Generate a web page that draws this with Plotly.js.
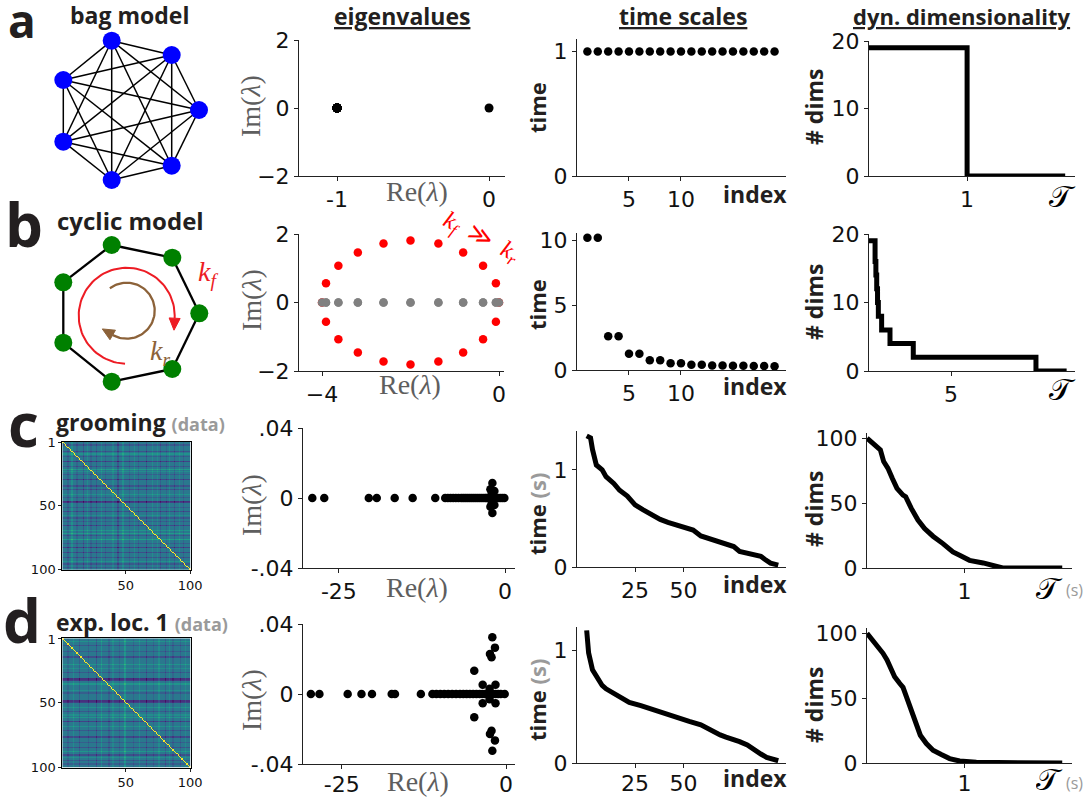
<!DOCTYPE html>
<html><head><meta charset="utf-8">
<script src="https://cdn.plot.ly/plotly-3.0.1.min.js"></script>
<style>html,body{margin:0;padding:0;background:#fff;}#chart{width:1085px;height:798px;}</style>
</head><body><div id="chart"></div>
<script>
const W = 1085, H = 798;

// ---------- data ----------
// (a) bag model eigenvalues
const eigARe = [-1,-1,-1,-1,-1,-1,-1,-1,-1,-1,-1,-1,-1,-1,-1,-1,-1,-1,-1,0];
const eigAIm = [0,0,0,0,0,0,0,0,0,0,0,0,0,0,0,0,0,0,0,0];
// (b) cyclic model eigenvalues, kf >> kr (red) and kf = kr (grey)
const eigBRedRe = [-4.0,-3.91,-3.63,-3.19,-2.61,-2.0,-1.37,-0.81,-0.36,-0.07,0.0,-0.07,-0.36,-0.81,-1.37,-2.0,-2.61,-3.19,-3.63,-3.91];
const eigBRedIm = [0,0.56,1.07,1.46,1.72,1.81,1.72,1.46,1.07,0.56,0,-0.56,-1.07,-1.46,-1.72,-1.81,-1.72,-1.46,-1.07,-0.56];
const eigBGreyRe = [-4.0,-3.91,-3.91,-3.63,-3.63,-3.19,-3.19,-2.61,-2.61,-2.0,-2.0,-1.37,-1.37,-0.81,-0.81,-0.36,-0.36,-0.07,-0.07,0.0];
const eigBGreyIm = [0,0,0,0,0,0,0,0,0,0,0,0,0,0,0,0,0,0,0,0];
// (c) grooming eigenvalues
const eigCRe = [-29.0,-27.2,-20.5,-19.3,-16.6,-13.9,-10.5,-9.0,-8.6,-8.2,-7.8,-7.4,-7.0,-6.6,-6.3,-6.0,-5.7,-5.4,-5.1,-4.8,-4.5,-4.2,-3.9,-3.6,-3.3,-3.0,-2.8,-2.6,-2.4,-2.2,-2.0,-1.9,-1.8,-1.6,-1.4,-1.2,-1.0,-0.7,-0.4,-0.1,-1.9,-1.9,-2.2,-2.2,-1.6,-1.6,-2.0,-2.0];
const eigCIm = [0,0,0,0,0,0,0,0,0,0,0,0,0,0,0,0,0,0,0,0,0,0,0,0,0,0,0,0,0,0,0,0,0,0,0,0,0,0,0,0,0.0086,-0.0086,0.005,-0.005,0.004,-0.004,0.003,-0.003];
// (d) exp. loc. 1 eigenvalues
const eigDRe = [-29.7,-28.4,-24.1,-22.0,-20.4,-17.4,-16.9,-12.96,-11.2,-10.6,-10.0,-9.4,-8.8,-8.2,-7.6,-7.0,-6.5,-6.0,-5.5,-5.0,-4.5,-4.0,-3.6,-3.2,-2.8,-2.4,-2.0,-1.6,-1.2,-0.8,-0.2,-4.83,-4.83,-2.08,-2.08,-1.68,-1.68,-2.44,-2.44,-2.2,-2.2,-3.55,-3.55,-1.6,-1.6,-2.5,-2.5];
const eigDIm = [0,0,0,0,0,0,0,0,0,0,0,0,0,0,0,0,0,0,0,0,0,0,0,0,0,0,0,0,0,0,0,0.0133,-0.0133,0.0324,-0.0324,0.0265,-0.0265,0.0229,-0.0229,0.021,-0.021,0.0053,-0.0053,0.0053,-0.0053,0.003,-0.003];

// time scales
const timeAIdx = [1,2,3,4,5,6,7,8,9,10,11,12,13,14,15,16,17,18,19];
const timeAVal = [1,1,1,1,1,1,1,1,1,1,1,1,1,1,1,1,1,1,1];
const timeBIdx = [1,2,3,4,5,6,7,8,9,10,11,12,13,14,15,16,17,18,19];
const timeBVal = [10.2,10.2,2.6,2.6,1.25,1.25,0.75,0.75,0.52,0.52,0.41,0.41,0.35,0.35,0.32,0.32,0.3,0.3,0.29];
const timeCIdx = [0,2,3,5,8,10,14,17,21,25,29,34,38,42,47,51,55,59,62,66,69,72,76,79,83,86,90,92,95,99];
const timeCVal = [1.35,1.33,1.21,1.05,1.0,0.93,0.86,0.79,0.73,0.64,0.59,0.53,0.49,0.46,0.43,0.41,0.38,0.32,0.30,0.27,0.25,0.23,0.21,0.16,0.14,0.13,0.11,0.08,0.04,0.02];
const timeDIdx = [0,1,3,5,8,10,14,17,22,28,33,38,43,48,53,59,62,66,69,72,76,79,83,86,90,93,97,99];
const timeDVal = [1.18,0.98,0.83,0.77,0.69,0.66,0.62,0.58,0.54,0.51,0.48,0.46,0.43,0.40,0.37,0.34,0.31,0.27,0.25,0.23,0.21,0.19,0.16,0.12,0.08,0.05,0.03,0.02];

// dynamical dimensionality
const dimATau = [0,1,2];
const dimAVal = [19,0,0];
const dimBTau = [0,0.37,0.42,0.47,0.52,0.57,0.77,1.28,2.7,10.18,12.05];
const dimBVal = [19,16,14,12,10,8,6,4,2,0,0];
const dimCTau = [0,0.045,0.10,0.137,0.171,0.215,0.26,0.307,0.369,0.396,0.454,0.522,0.59,0.676,0.778,0.88,0.949,1.05,1.19,1.32,1.39,2.0];
const dimCVal = [100,97.4,93.5,91,82,76.8,69,61.4,56.2,54.9,45.9,36.9,30.4,24.5,18.8,12.4,9.8,5.9,3.9,1.5,0,0];
const dimDTau = [0,0.045,0.10,0.164,0.205,0.232,0.283,0.334,0.369,0.41,0.454,0.498,0.546,0.608,0.676,0.761,0.846,0.949,1.12,2.0];
const dimDVal = [100,96.1,91,84.5,79.4,74.2,66.5,61.4,58.3,49.8,40.7,30.4,21.4,15,9.8,6.5,3.4,1.5,0.5,0];

// heatmap band structure read from the matrices (row / column index and level shift)
const heatBase = 0.40;
const heatCRowIdx   = [3,8,12,16,20,26,30,35,38,44,47,48,52,55,60,63,66,74,80,83,87,91,96,99,10,22,24,42,58,70,72,77,94];
const heatCRowShift = [-0.12,-0.14,-0.1,-0.2,-0.12,-0.1,-0.18,-0.14,-0.14,-0.1,-0.26,-0.22,-0.1,-0.16,-0.12,-0.1,-0.18,-0.12,-0.1,-0.2,-0.16,-0.14,-0.12,-0.1,0.1,0.14,0.08,0.1,0.08,0.12,0.14,0.16,0.1];
const heatCColIdx   = [5,12,17,23,27,34,44,53,60,66,77,82,88,95,8,20,31,40,48,57,71,75,84,92];
const heatCColShift = [-0.08,-0.07,-0.12,-0.07,-0.1,-0.07,-0.12,-0.07,-0.08,-0.12,-0.1,-0.07,-0.1,-0.08,0.1,0.08,0.08,0.07,0.1,0.08,0.08,0.07,0.08,0.07];
const heatDRowIdx   = [6,11,15,27,32,33,43,49,50,57,65,72,77,81,85,91,95,98,3,21,24,36,41,54,60,62,69,88,93];
const heatDRowShift = [-0.12,-0.1,-0.16,-0.12,-0.26,-0.22,-0.1,-0.26,-0.22,-0.12,-0.2,-0.12,-0.18,-0.1,-0.14,-0.16,-0.12,-0.1,0.1,0.12,0.08,0.12,0.08,0.1,0.08,0.12,0.1,0.12,0.08];
const heatDColIdx   = [5,14,21,27,37,45,56,66,72,81,87,93,9,31,40,49,50,61,76,84,97];
const heatDColShift = [-0.07,-0.1,-0.07,-0.12,-0.08,-0.07,-0.07,-0.12,-0.07,-0.1,-0.07,-0.08,0.08,0.1,0.07,0.14,0.12,0.08,0.08,0.07,0.07];

// network diagrams (node positions on the page)
const bagNodeX = [111.7,171.7,199,171.7,111.7,63.3,63.3];
const bagNodeY = [40.7,55,110,165.7,180,141.7,80];
const cycNodeX = [111.7,172.3,199.3,172.3,111.7,63.3,63.3];
const cycNodeY = [245,257.7,313.3,369,381.7,342.7,282.3];

// ---------- helpers ----------
function dx(a,b){return [a/W,b/W];}
function dy(t,b){return [1-b/H,1-t/H];}
const AX = {showline:true,linecolor:'#222',linewidth:1,ticks:'outside',ticklen:4,tickwidth:1,tickcolor:'#222',
  showgrid:false,zeroline:false,tickfont:{family:'DejaVu Sans',size:22,color:'#111'},fixedrange:true,tickmode:'array'};
function axis(dom,range,vals,text,anchor,extra){
  return Object.assign({},AX,{domain:dom,range:range,tickvals:vals,ticktext:text,anchor:anchor},extra||{});
}
const layout = {width:W,height:H,margin:{l:0,r:0,t:0,b:0},paper_bgcolor:'#fff',plot_bgcolor:'rgba(0,0,0,0)',showlegend:false,
  annotations:[],shapes:[]};
// eigenvalue column
layout.xaxis  = axis(dx(299,505),[-1.25,0.105],[-1,0],['-1','0'],'y');
layout.yaxis  = axis(dy(40,176),[-2,2],[-2,0,2],['\u22122','0','2'],'x');
layout.xaxis2 = axis(dx(299,504),[-4.52,0.113],[-4,0],['\u22124','0'],'y2');
layout.yaxis2 = axis(dy(234,371),[-2,2],[-2,0,2],['\u22122','0','2'],'x2');
layout.xaxis3 = axis(dx(303,515),[-30.4,1.5],[-25,0],['-25','0'],'y3');
layout.yaxis3 = axis(dy(428,568),[-0.04,0.04],[-0.04,0,0.04],['-.04','0','.04'],'x3');
layout.xaxis4 = axis(dx(303,515),[-30.9,1.37],[-25,0],['-25','0'],'y4',{ticklabelstandoff:-3});
layout.yaxis4 = axis(dy(624,764),[-0.04,0.04],[-0.04,0,0.04],['-.04','0','.04'],'x4');
// time column
layout.xaxis5 = axis(dx(577,786),[0,20.1],[5,10],['5','10'],'y5');
layout.yaxis5 = axis(dy(39,176),[0,1.1],[0,1],['0','1'],'x5');
layout.xaxis6 = axis(dx(577,786),[0,20.1],[5,10],['5','10'],'y6');
layout.yaxis6 = axis(dy(233,370),[0,10.57],[0,5,10],['0','5','10'],'x6');
layout.xaxis7 = axis(dx(577,786),[-5,103],[25,50],['25','50'],'y7');
layout.yaxis7 = axis(dy(431,567),[0,1.4],[0,1],['0','1'],'x7');
layout.xaxis8 = axis(dx(577,786),[-5,103],[25,50],['25','50'],'y8',{ticklabelstandoff:-3});
layout.yaxis8 = axis(dy(627,763),[0,1.21],[0,1],['0','1'],'x8');
// dims column
layout.xaxis9  = axis(dx(869,1075),[0,2.1],[1],['1'],'y9');
layout.yaxis9  = axis(dy(41,176),[0,20],[0,10,20],['0','10','20'],'x9');
layout.xaxis10 = axis(dx(869,1075),[0,12.56],[5],['5'],'y10');
layout.yaxis10 = axis(dy(234,371),[0,20],[0,10,20],['0','10','20'],'x10');
layout.xaxis11 = axis(dx(867,1072),[0,2.1],[1],['1'],'y11');
layout.yaxis11 = axis(dy(433,568),[0,104],[0,50,100],['0','50','100'],'x11');
layout.xaxis12 = axis(dx(867,1072),[0,2.1],[1],['1'],'y12',{ticklabelstandoff:-3});
layout.yaxis12 = axis(dy(628,763),[0,104],[0,50,100],['0','50','100'],'x12');
// heatmaps
const HX = {mirror:true,linecolor:'#000',ticklen:3,tickfont:{family:'DejaVu Sans',size:13,color:'#111'}};
layout.xaxis13 = axis(dx(62.3,190.7),[0.5,100.5],[50,100],['50','100'],'y13',HX);
layout.yaxis13 = axis(dy(441.7,570),[100.5,0.5],[1,50,100],['1','50','100'],'x13',HX);
layout.xaxis14 = axis(dx(62.3,190.7),[0.5,100.5],[50,100],['50','100'],'y14',HX);
layout.yaxis14 = axis(dy(638.3,767.7),[100.5,0.5],[1,50,100],['1','50','100'],'x14',HX);
// overlay (page pixel coordinates) for the network diagrams
layout.xaxis15 = {domain:[0,1],range:[0,W],visible:false,fixedrange:true,anchor:'y15'};
layout.yaxis15 = {domain:[0,1],range:[H,0],visible:false,fixedrange:true,anchor:'x15'};

const traces = [];
function dots(x,y,n,color,size){traces.push({type:'scatter',mode:'markers',x:x,y:y,xaxis:'x'+(n===1?'':n),yaxis:'y'+(n===1?'':n),
  marker:{color:color,size:size||8.5,line:{width:0}},hoverinfo:'skip',cliponaxis:false});}
function curve(x,y,n,shape){traces.push({type:'scatter',mode:'lines',x:x,y:y,xaxis:'x'+n,yaxis:'y'+n,
  line:{color:'#000',width:5,shape:shape||'linear'},hoverinfo:'skip',cliponaxis:false});}

dots(eigARe,eigAIm,1,'#000',9);
dots(eigBRedRe,eigBRedIm,2,'#ff0000',8.5);
dots(eigBGreyRe,eigBGreyIm,2,'#808080',8.5);
dots(eigCRe,eigCIm,3,'#000',8.5);
dots(eigDRe,eigDIm,4,'#000',8.5);
dots(timeAIdx,timeAVal,5,'#000',8.5);
dots(timeBIdx,timeBVal,6,'#000',8.5);
curve(timeCIdx,timeCVal,7);
curve(timeDIdx,timeDVal,8);
curve(dimATau,dimAVal,9,'hv');
curve(dimBTau,dimBVal,10,'hv');
curve(dimCTau,dimCVal,11);
curve(dimDTau,dimDVal,12);

function heat(rIdx,rShift,cIdx,cShift,n){
  const z=[];
  for(let r=1;r<=100;r++){const row=[];
    const ri=rIdx.indexOf(r); const rs= ri>=0 ? rShift[ri] : 0;
    for(let c=1;c<=100;c++){
      const ci=cIdx.indexOf(c); const cs= ci>=0 ? cShift[ci] : 0;
      row.push(r===c ? 1 : heatBase+rs+cs);}
    z.push(row);}
  const idx=[];for(let i=1;i<=100;i++)idx.push(i);
  traces.push({type:'heatmap',z:z,x:idx,y:idx,xaxis:'x'+n,yaxis:'y'+n,colorscale:'Viridis',zmin:0,zmax:1,showscale:false,hoverinfo:'skip'});
}
heat(heatCRowIdx,heatCRowShift,heatCColIdx,heatCColShift,13);
heat(heatDRowIdx,heatDRowShift,heatDColIdx,heatDColShift,14);

// networks
function edges(nx,ny,all){const ex=[],ey=[];const n=nx.length;
  for(let i=0;i<n;i++)for(let j=i+1;j<n;j++){
    if(!all && !(j===i+1 || (i===0&&j===n-1)))continue;
    ex.push(nx[i],nx[j],null);ey.push(ny[i],ny[j],null);}
  return [ex,ey];}
const [bex,bey]=edges(bagNodeX,bagNodeY,true);
traces.push({type:'scatter',mode:'lines',x:bex,y:bey,xaxis:'x15',yaxis:'y15',line:{color:'#000',width:1.5},hoverinfo:'skip'});
const [cex,cey]=edges(cycNodeX,cycNodeY,false);
traces.push({type:'scatter',mode:'lines',x:cex,y:cey,xaxis:'x15',yaxis:'y15',line:{color:'#000',width:2.3},hoverinfo:'skip'});
function arc(cx,cy,r,a0,a1,color,w){const x=[],y=[];const N=80;
  for(let k=0;k<=N;k++){const a=(a0+(a1-a0)*k/N)*Math.PI/180;x.push(cx+r*Math.cos(a));y.push(cy-r*Math.sin(a));}
  traces.push({type:'scatter',mode:'lines',x:x,y:y,xaxis:'x15',yaxis:'y15',line:{color:color,width:w},hoverinfo:'skip'});
  const ae=a1*Math.PI/180;const bx=cx+r*Math.cos(ae),by=cy-r*Math.sin(ae);
  const d=[Math.sin(ae),Math.cos(ae)];const L=12,hw=5.5;
  const tx=bx+d[0]*L,ty=by+d[1]*L;const nrm=[-d[1],d[0]];
  traces.push({type:'scatter',mode:'lines',fill:'toself',fillcolor:color,line:{color:color,width:1},
    x:[tx,bx+nrm[0]*hw,bx-nrm[0]*hw,tx],y:[ty,by+nrm[1]*hw,by-nrm[1]*hw,ty],xaxis:'x15',yaxis:'y15',hoverinfo:'skip'});
}
arc(126.7,315.7,48,268,-3,'#ed1c24',2);
arc(126.7,310.7,28,127,-120,'#8c6239',2.3);
traces.push({type:'scatter',mode:'markers',x:bagNodeX,y:bagNodeY,xaxis:'x15',yaxis:'y15',marker:{color:'#0000ff',size:18},hoverinfo:'skip'});
traces.push({type:'scatter',mode:'markers',x:cycNodeX,y:cycNodeY,xaxis:'x15',yaxis:'y15',marker:{color:'#008000',size:18},hoverinfo:'skip'});

// ---------- text ----------
function txt(x,y,text,font,extra){layout.annotations.push(Object.assign({xref:'paper',yref:'paper',x:x/W,y:1-y/H,text:text,
  showarrow:false,xanchor:'center',yanchor:'middle',font:Object.assign({family:'Open Sans',size:22,color:'#231f20',weight:700},font||{})},extra||{}));}
const U = s => '<span style="text-decoration:underline">'+s+'</span>';
txt(402,16,U('eigenvalues'),{size:23});
txt(683,16,U('time scales'),{size:23});
txt(962,16,U('dyn. dimensionality'),{size:22});
txt(22,20,'a',{size:46},{height:36});
txt(24,224,'b',{size:60});
txt(23,424,'c',{size:60});
txt(22,620,'d',{size:60});
txt(129,15,'bag model',{size:23});
txt(130,220,'cyclic model',{size:24});
txt(54,422,'grooming <span style="color:#9a9a9a;font-size:18px">(data)</span>',{size:23},{xanchor:'left'});
txt(54,622,'exp. loc. 1 <span style="color:#9a9a9a;font-size:18px">(data)</span>',{size:23},{xanchor:'left'});
const serif = {family:'Liberation Serif',weight:400,size:28,color:'#5e5e5e'};
[106,300,505,700].forEach(y=>txt(251,y,'Im(<i>λ</i>)',serif,{textangle:-90}));
[[417,191],[410,384],[417,587],[418,781]].forEach(p=>txt(p[0],p[1],'Re(<i>λ</i>)',serif));
txt(537,108,'time',{},{textangle:-90});
txt(537,305,'time',{},{textangle:-90});
txt(537,514,'time <span style="color:#9a9a9a">(s)</span>',{},{textangle:-90});
txt(537,700,'time <span style="color:#9a9a9a">(s)</span>',{},{textangle:-90});
[107,302,509,705].forEach(y=>txt(814,y,'# dims',{size:23},{textangle:-90}));
[194,386,584,778].forEach(y=>txt(755,y,'index',{size:23}));
const tau = {family:'DejaVu Serif',weight:400,size:30,color:'#000'};
txt(1062,196,'𝒯',tau);
txt(1062,389,'𝒯',tau);
txt(1049,588,'𝒯',tau);txt(1074,590,'(s)',{size:16,weight:400,color:'#9a9a9a'});
txt(1049,779,'𝒯',tau,{height:34});txt(1074,783,'(s)',{size:16,weight:400,color:'#9a9a9a'});
txt(481,238,'<i>k<sub>f</sub></i>  ≫  <i>k<sub>r</sub></i>',{family:'Liberation Serif',weight:400,size:24,color:'#ff0000'},{textangle:27});
txt(208,274,'<i>k</i><sub><i>f</i></sub>',{family:'Liberation Serif',weight:400,size:28,color:'#ed1c24'});
txt(160,353,'<i>k</i><sub><i>r</i></sub>',{family:'Liberation Serif',weight:400,size:28,color:'#8c6239'});

Plotly.newPlot('chart',traces,layout,{staticPlot:true,displayModeBar:false});
</script></body></html>
